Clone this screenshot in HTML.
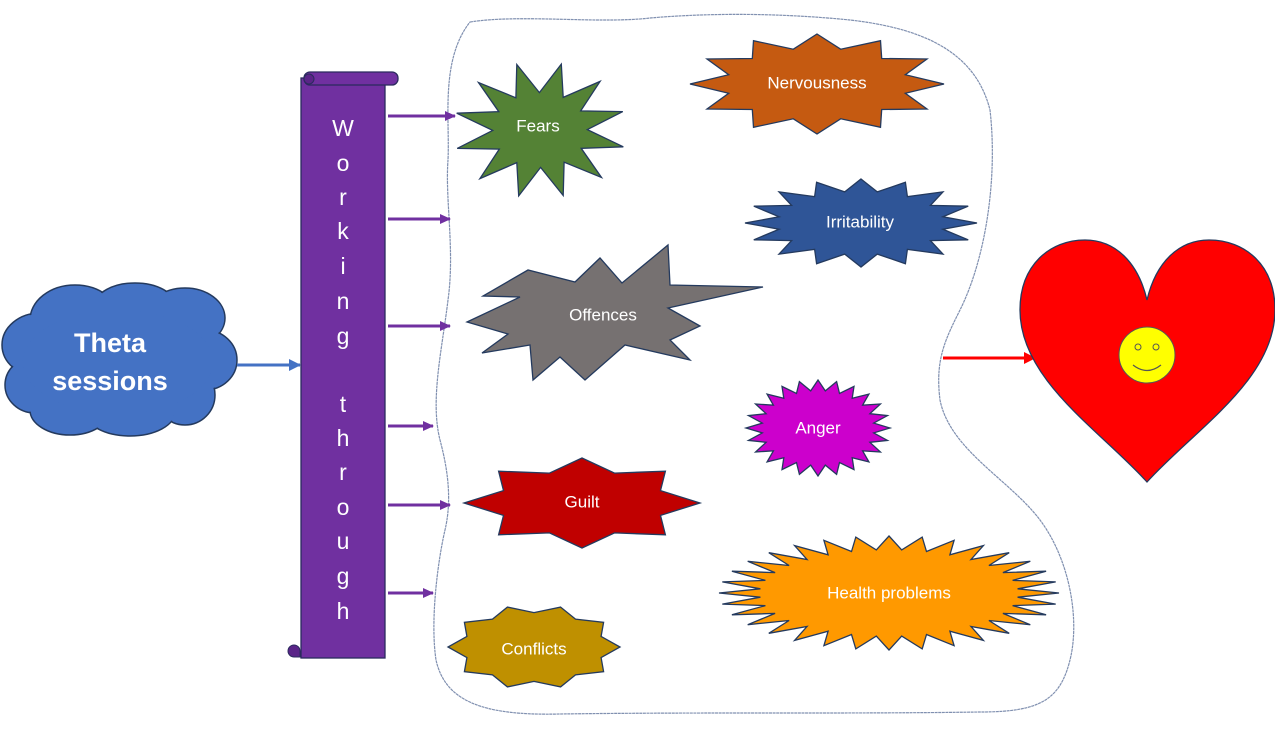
<!DOCTYPE html>
<html><head><meta charset="utf-8"><style>
html,body{margin:0;padding:0;background:#fff;}
svg{display:block;font-family:"Liberation Sans",sans-serif;}
.t{fill:#fff;font-size:17px;text-anchor:middle;dominant-baseline:middle;}
.s{stroke:#243a5e;stroke-width:1.3;}
</style></head><body>
<svg id="g" width="1275" height="732" viewBox="0 0 1275 732" xmlns="http://www.w3.org/2000/svg">
<defs>
<marker id="mp" markerWidth="11" markerHeight="10" refX="10" refY="5" orient="auto" markerUnits="userSpaceOnUse"><path d="M0,0 L11,5 L0,10z" fill="#7030a0"/></marker>
<marker id="mb" markerWidth="12" markerHeight="12" refX="11" refY="6" orient="auto" markerUnits="userSpaceOnUse"><path d="M0,0 L12,6 L0,12z" fill="#4472c4"/></marker>
<marker id="mr" markerWidth="12" markerHeight="12" refX="11" refY="6" orient="auto" markerUnits="userSpaceOnUse"><path d="M0,0 L12,6 L0,12z" fill="#ff0000"/></marker>
</defs>
<path d="M470,22 C520,14 600,24 650,18 C720,12 790,14 850,20 C920,28 975,50 990,110 C998,180 985,260 960,310 C945,340 935,360 940,400 C950,450 1010,480 1040,520 C1070,560 1080,620 1070,660 C1060,700 1040,712 980,712 C850,714 700,712 560,714 C480,716 445,700 436,660 C430,620 438,560 445,530 C452,500 448,470 440,440 C430,400 442,350 448,300 C455,250 445,200 448,160 C450,120 440,60 470,22 Z" fill="none" stroke="#8090b0" stroke-width="1.2" stroke-dasharray="3,0.6"/>
<g fill="#4472c4" stroke="#243a5e" stroke-width="1.5">
<ellipse cx="40" cy="345" rx="38" ry="32"/><ellipse cx="35" cy="385" rx="30" ry="28"/>
<ellipse cx="75" cy="320" rx="45" ry="35"/><ellipse cx="135" cy="305" rx="40" ry="22"/>
<ellipse cx="185" cy="318" rx="40" ry="30"/><ellipse cx="205" cy="360" rx="32" ry="30"/>
<ellipse cx="185" cy="395" rx="30" ry="30"/><ellipse cx="130" cy="412" rx="45" ry="24"/>
<ellipse cx="70" cy="410" rx="40" ry="25"/>
</g>
<g fill="#4472c4">
<ellipse cx="40" cy="345" rx="37" ry="31"/><ellipse cx="35" cy="385" rx="29" ry="27"/>
<ellipse cx="75" cy="320" rx="44" ry="34"/><ellipse cx="135" cy="305" rx="39" ry="21"/>
<ellipse cx="185" cy="318" rx="39" ry="29"/><ellipse cx="205" cy="360" rx="31" ry="29"/>
<ellipse cx="185" cy="395" rx="29" ry="29"/><ellipse cx="130" cy="412" rx="44" ry="23"/>
<ellipse cx="70" cy="410" rx="39" ry="24"/><ellipse cx="118" cy="362" rx="95" ry="52"/>
</g>
<text x="110" y="345" fill="#fff" font-size="27" font-weight="bold" text-anchor="middle" dominant-baseline="middle">Theta</text>
<text x="110" y="383" fill="#fff" font-size="27" font-weight="bold" text-anchor="middle" dominant-baseline="middle">sessions</text>
<line x1="237" y1="365" x2="300" y2="365" stroke="#4472c4" stroke-width="3" marker-end="url(#mb)"/>
<rect x="301" y="78" width="84" height="580" fill="#7030a0" stroke="#2b2b5e" stroke-width="1.3"/>
<rect x="304" y="72" width="94" height="13" rx="6" fill="#7030a0" stroke="#2b2b5e" stroke-width="1.3"/>
<circle cx="309" cy="79" r="5" fill="#5a2488" stroke="#2b2b5e" stroke-width="1"/>
<path d="M288,651 a6,6 0 0 1 12,0 v6 h-6 a6,6 0 0 1 -6,-6z" fill="#5a2488" stroke="#2b2b5e" stroke-width="1"/>
<g fill="#fff" font-size="23" text-anchor="middle" dominant-baseline="middle">
<text x="343" y="130">W</text><text x="343" y="165">o</text><text x="343" y="199">r</text><text x="343" y="233">k</text><text x="343" y="268">i</text><text x="343" y="303">n</text><text x="343" y="338">g</text>
<text x="343" y="406">t</text><text x="343" y="440">h</text><text x="343" y="474">r</text><text x="343" y="509">o</text><text x="343" y="543">u</text><text x="343" y="578">g</text><text x="343" y="613">h</text>
</g>
<g stroke="#7030a0" stroke-width="3" marker-end="url(#mp)">
<line x1="388" y1="116" x2="455" y2="116"/><line x1="388" y1="219" x2="450" y2="219"/>
<line x1="388" y1="326" x2="450" y2="326"/><line x1="388" y1="426" x2="433" y2="426"/>
<line x1="388" y1="505" x2="450" y2="505"/><line x1="388" y1="593" x2="433" y2="593"/>
</g>
<g id="stars"></g>
<polygon class="s" fill="#767171" points="467,322 520,297 483,296 528,270 575,282 600,258 622,283 668,245 670,285 763,287 668,308 700,326 670,340 690,360 625,345 585,380 560,357 533,380 530,345 482,353 508,334"/>
<text class="t" x="603" y="316">Offences</text>
<text class="t" x="538" y="127">Fears</text>
<text class="t" x="817" y="84">Nervousness</text>
<text class="t" x="860" y="223">Irritability</text>
<text class="t" x="818" y="429">Anger</text>
<text class="t" x="582" y="503">Guilt</text>
<text class="t" x="889" y="594">Health problems</text>
<text class="t" x="534" y="650">Conflicts</text>
<line x1="943" y1="358" x2="1035" y2="358" stroke="#ff0000" stroke-width="3" marker-end="url(#mr)"/>
<path d="M1147,482 C1100,430 1020,380 1020,310 C1020,265 1050,240 1085,240 C1115,240 1138,262 1147,300 C1156,262 1179,240 1209,240 C1245,240 1275,265 1275,310 C1275,380 1194,430 1147,482 Z" fill="#ff0000" stroke="#243a5e" stroke-width="1.3"/>
<circle cx="1147" cy="355" r="28" fill="#ffff00" stroke="#555" stroke-width="1"/>
<circle cx="1138" cy="347" r="3" fill="none" stroke="#555"/><circle cx="1156" cy="347" r="3" fill="none" stroke="#555"/>
<path d="M1133,365 Q1147,376 1161,365" fill="none" stroke="#555" stroke-width="1.2"/>
</svg>
<script>
function star(cx,cy,rx,ry,k,n,col,rot){
 var p=[];rot=rot||0;
 for(var i=0;i<2*n;i++){var a=-Math.PI/2+rot+i*Math.PI/n;var r=i%2?k:1;
 p.push((cx+rx*r*Math.cos(a)).toFixed(1)+","+(cy+ry*r*Math.sin(a)).toFixed(1));}
 var e=document.createElementNS("http://www.w3.org/2000/svg","polygon");
 e.setAttribute("points",p.join(" "));e.setAttribute("fill",col);e.setAttribute("class","s");
 document.getElementById("stars").appendChild(e);
}
star(540,130,86,68,0.55,12,"#548235",0.25);
star(817,84,127,50,0.72,12,"#c55a11");
star(861,223,116,44,0.72,16,"#2f5597");
star(818,428,72,48,0.78,24,"#cc00cc");
star(582,503,118,45,0.72,8,"#c00000");
star(889,593,170,57,0.76,32,"#ff9900");
star(534,647,86,42,0.82,10,"#bf9000",Math.PI/10);
</script>
</body></html>
